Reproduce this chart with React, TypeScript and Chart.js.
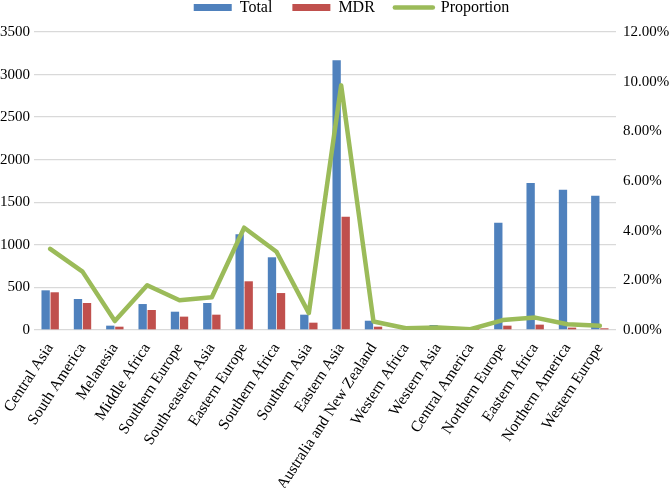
import React, { useEffect, useRef } from 'react';
import { Chart, registerables } from 'chart.js';

Chart.register(...registerables);

const categories = [
  'Central Asia', 'South America', 'Melanesia', 'Middle Africa', 'Southern Europe',
  'South-eastern Asia', 'Eastern Europe', 'Southern Africa', 'Southern Asia', 'Eastern Asia',
  'Australia and New Zealand', 'Western Africa', 'Western Asia', 'Central America',
  'Northern Europe', 'Eastern Africa', 'Northern America', 'Western Europe',
];
const seriesNames = ['Total', 'MDR', 'Proportion'];
const totalValues = [466, 364, 51, 305, 215, 317, 1124, 854, 180, 3168, 109, 8, 59, 6, 1260, 1727, 1648, 1578];
const mdrValues = [443, 317, 39, 235, 157, 180, 572, 434, 86, 1331, 39, 2, 5, 1, 51, 63, 28, 20];
const proportionValues = [3.27, 2.35, 0.36, 1.8, 1.2, 1.32, 4.12, 3.15, 0.68, 9.85, 0.34, 0.07, 0.1, 0.03, 0.4, 0.5, 0.23, 0.17];
const leftAxis = { min: 0, max: 3500, step: 500 };
const rightAxis = { min: 0, max: 12, step: 2 };

const FONT = "'Liberation Serif', 'Times New Roman', serif";
const BLUE = '#4f81bd';
const RED = '#c0504d';
const GREEN = '#9bbb59';
const GRID = '#d9d9d9';
const LEGEND_PAD = 20;

export default function App() {
  const ref = useRef<HTMLCanvasElement>(null);

  useEffect(() => {
    if (!ref.current) return;
    const legendTweak = {
      id: 'legendTweak',
      afterInit(chart: any) {
        const lg = chart.legend;
        if (!lg) return;
        const orig = lg.fit;
        lg.fit = function () {
          orig.call(this);
          this.height = 32;
        };
      },
      afterLayout(chart: any) {
        const lg = chart.legend;
        if (!lg) return;
        // move the item row up without shrinking the legend's clip box
        lg.top -= LEGEND_PAD + 0.5;
        lg.left += 17;
        lg.right += 17;
      },
    };

    const chart = new Chart(ref.current, {
      type: 'bar',
      data: {
        labels: categories,
        datasets: [
          {
            type: 'bar',
            label: seriesNames[0],
            data: totalValues,
            backgroundColor: BLUE,
            borderWidth: 0,
            yAxisID: 'y',
            order: 1,
            categoryPercentage: 0.56,
            barPercentage: 0.92,
          },
          {
            type: 'bar',
            label: seriesNames[1],
            data: mdrValues,
            backgroundColor: RED,
            borderWidth: 0,
            yAxisID: 'y',
            order: 2,
            categoryPercentage: 0.56,
            barPercentage: 0.92,
          },
          {
            type: 'line',
            label: seriesNames[2],
            data: proportionValues,
            borderColor: GREEN,
            backgroundColor: GREEN,
            borderWidth: 4.5,
            pointRadius: 0,
            tension: 0,
            yAxisID: 'y2',
            order: 0,
            borderCapStyle: 'round',
            borderJoinStyle: 'round',
          } as any,
        ],
      },
      options: {
        responsive: false,
        animation: false,
        layout: { padding: 0 },
        plugins: {
          tooltip: { enabled: false },
          legend: {
            position: 'top',
            align: 'center',
            labels: {
              usePointStyle: true,
              pointStyleWidth: 38,
              boxWidth: 38,
              boxHeight: 7,
              padding: LEGEND_PAD,
              color: '#000',
              font: { family: FONT, size: 16 },
              generateLabels: (c: any) =>
                c.data.datasets.map((ds: any, i: number) => ({
                  text: ds.label,
                  fillStyle: ds.backgroundColor,
                  strokeStyle: ds.borderColor || ds.backgroundColor,
                  lineWidth: ds.type === 'line' ? 4.5 : 0,
                  lineCap: 'round',
                  pointStyle: ds.type === 'line' ? 'line' : 'rect',
                  hidden: false,
                  datasetIndex: i,
                  fontColor: '#000',
                })),
            },
          },
        },
        scales: {
          x: {
            grid: { display: false },
            border: { display: false },
            ticks: {
              color: '#000',
              font: { family: FONT, size: 15.5 },
              minRotation: 57,
              maxRotation: 57,
              autoSkip: false,
              padding: 2,
            },
            afterFit: (s: any) => {
              s.height = 158;
            },
          },
          y: {
            position: 'left',
            min: leftAxis.min,
            max: leftAxis.max,
            grid: { color: GRID, lineWidth: 1.3, drawTicks: false },
            border: { display: false },
            ticks: {
              stepSize: leftAxis.step,
              color: '#000',
              font: { family: FONT, size: 15 },
              padding: 4,
              callback: (v: any) => String(v),
            },
            afterFit: (s: any) => {
              s.width = 34;
            },
          },
          y2: {
            position: 'right',
            min: rightAxis.min,
            max: rightAxis.max,
            grid: { display: false, drawTicks: false },
            border: { display: false },
            ticks: {
              stepSize: rightAxis.step,
              color: '#000',
              font: { family: FONT, size: 15 },
              padding: 7,
              callback: (v: any) => Number(v).toFixed(2) + '%',
            },
            afterFit: (s: any) => {
              s.width = 53;
            },
          },
        },
      },
      plugins: [legendTweak],
    } as any);

    return () => chart.destroy();
  }, []);

  return (
    <canvas
      ref={ref}
      width={669}
      height={488}
      style={{ position: 'absolute', left: 0, top: 0, width: 669, height: 488 }}
    />
  );
}
